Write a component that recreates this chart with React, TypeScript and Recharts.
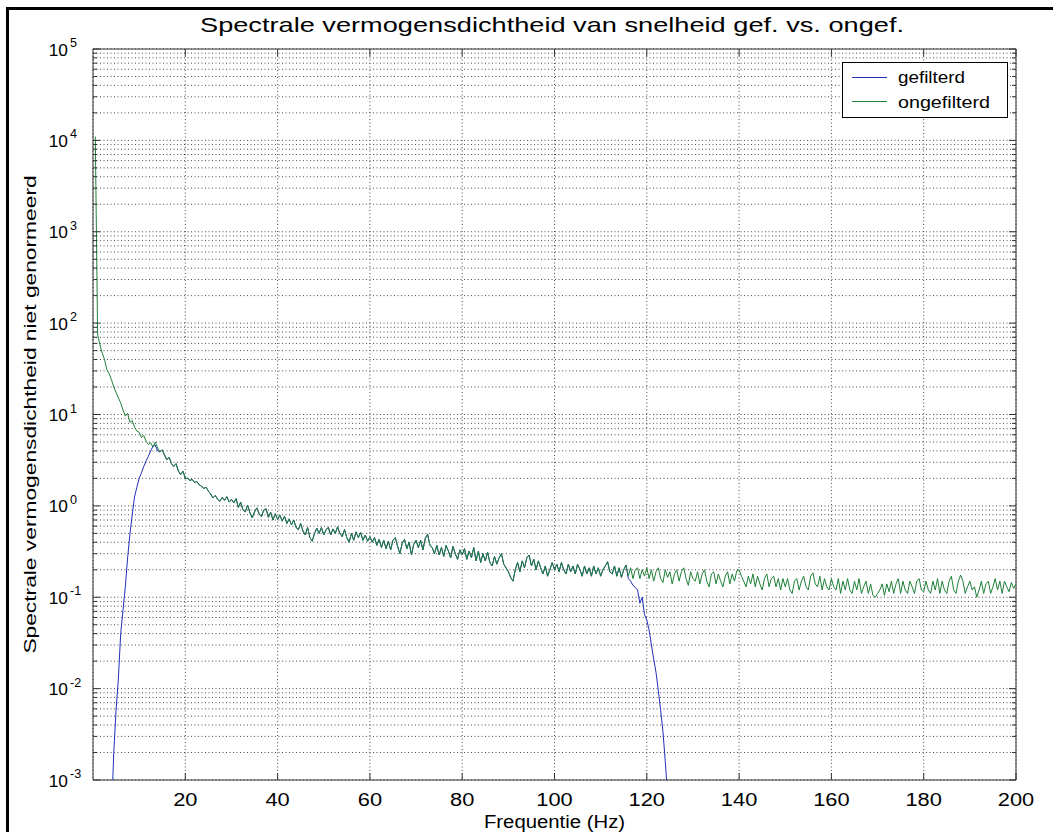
import {
  CartesianGrid,
  Legend,
  Line,
  LineChart,
  ReferenceLine,
  XAxis,
  YAxis,
} from "recharts";

// frequency bins: 0.5 Hz apart, first bin at 0.5 Hz
const FREQ_STEP = 0.5;

// unfiltered spectrum, one value per bin (0.5 .. 200 Hz), 20 bins per row
const ONGEFILTERD = [
  11000, 75, 58, 47, 40, 31, 28, 24, 20, 17.5, 15.2, 13.4, 11.2, 9.6, 10.3, 8.2, 8.6, 7.3, 6.6, 6.4,
  5.6, 5.9, 5.1, 4.7, 4.9, 4.4, 5.0, 4.3, 3.9, 4.1, 3.6, 3.2, 3.4, 2.9, 2.7, 2.9, 2.4, 2.2, 2.4, 2.0,
  2.0, 1.9, 1.95, 1.8, 1.85, 1.7, 1.65, 1.55, 1.6, 1.45, 1.35, 1.22, 1.3, 1.18, 1.12, 1.24, 1.15, 1.26, 1.1, 1.18,
  1.08, 1.2, 0.96, 1.1, 0.9, 0.86, 1.02, 0.84, 0.74, 0.86, 0.95, 0.82, 0.76, 0.9, 0.93, 0.75, 0.85, 0.7, 0.82, 0.71,
  0.79, 0.68, 0.77, 0.64, 0.72, 0.62, 0.7, 0.58, 0.55, 0.64, 0.53, 0.48, 0.58, 0.45, 0.41, 0.5, 0.57, 0.5, 0.58, 0.48,
  0.55, 0.58, 0.48, 0.56, 0.5, 0.59, 0.5, 0.46, 0.55, 0.45, 0.4, 0.5, 0.42, 0.52, 0.45, 0.51, 0.42, 0.48, 0.41, 0.46,
  0.4, 0.45, 0.37, 0.43, 0.35, 0.42, 0.34, 0.41, 0.33, 0.42, 0.45, 0.36, 0.3, 0.39, 0.43, 0.34, 0.4, 0.29, 0.38, 0.42,
  0.35, 0.42, 0.33, 0.44, 0.49, 0.37, 0.35, 0.3, 0.37, 0.29, 0.35, 0.28, 0.37, 0.32, 0.27, 0.36, 0.3, 0.26, 0.33, 0.29,
  0.34, 0.26, 0.32, 0.27, 0.35, 0.25, 0.32, 0.24, 0.3, 0.25, 0.31, 0.24, 0.22, 0.28, 0.23, 0.27, 0.3, 0.23, 0.21, 0.19,
  0.165, 0.15, 0.2, 0.24, 0.19, 0.25, 0.21, 0.27, 0.29, 0.22, 0.26, 0.2, 0.25, 0.21, 0.18, 0.22, 0.17, 0.2, 0.24, 0.2,
  0.23, 0.19, 0.24, 0.2, 0.18, 0.23, 0.19, 0.22, 0.18, 0.23, 0.2, 0.17, 0.22, 0.18, 0.21, 0.17, 0.22, 0.18, 0.21, 0.17,
  0.2, 0.22, 0.245, 0.19, 0.18, 0.22, 0.17, 0.21, 0.165, 0.2, 0.225, 0.17, 0.21, 0.16, 0.2, 0.21, 0.16, 0.2, 0.17, 0.21,
  0.16, 0.2, 0.15, 0.19, 0.21, 0.16, 0.145, 0.2, 0.165, 0.19, 0.14, 0.18, 0.2, 0.15, 0.19, 0.21, 0.16, 0.135, 0.19, 0.16,
  0.15, 0.19, 0.14, 0.18, 0.2, 0.15, 0.13, 0.18, 0.19, 0.14, 0.18, 0.15, 0.13, 0.17, 0.19, 0.14, 0.18, 0.15, 0.195, 0.2,
  0.17, 0.15, 0.13, 0.17, 0.14, 0.18, 0.13, 0.17, 0.14, 0.12, 0.16, 0.18, 0.13, 0.16, 0.17, 0.13, 0.16, 0.12, 0.16, 0.13,
  0.16, 0.12, 0.11, 0.15, 0.16, 0.12, 0.15, 0.17, 0.13, 0.12, 0.17, 0.185, 0.14, 0.13, 0.17, 0.12, 0.16, 0.13, 0.12, 0.16,
  0.13, 0.12, 0.16, 0.11, 0.15, 0.12, 0.16, 0.12, 0.11, 0.15, 0.12, 0.16, 0.11, 0.13, 0.15, 0.11, 0.14, 0.105, 0.1, 0.11,
  0.12, 0.14, 0.105, 0.14, 0.115, 0.15, 0.11, 0.14, 0.16, 0.11, 0.15, 0.12, 0.11, 0.15, 0.13, 0.11, 0.15, 0.16, 0.12, 0.115,
  0.15, 0.12, 0.11, 0.15, 0.12, 0.16, 0.11, 0.15, 0.12, 0.11, 0.15, 0.17, 0.12, 0.11, 0.15, 0.175, 0.15, 0.11, 0.13, 0.15,
  0.12, 0.13, 0.1, 0.12, 0.15, 0.11, 0.14, 0.15, 0.11, 0.13, 0.16, 0.12, 0.15, 0.11, 0.15, 0.13, 0.115, 0.145, 0.125, 0.14,
];

// filtered spectrum: rising edge of the band-pass, 4.0 .. 14.0 Hz
const GEF_LOW_FROM = 4.0;
const GEFILTERD_LOW = [
  0.0004, 0.002, 0.0058, 0.013, 0.04, 0.072, 0.13, 0.27, 0.49, 0.8, 1.25,
  1.6, 2.0, 2.3, 2.7, 3.1, 3.5, 4.0, 4.5, 4.6, 4.0,
];
// falling edge, 116.0 .. 125.0 Hz
const GEF_HIGH_FROM = 116.0;
const GEFILTERD_HIGH = [
  0.16, 0.15, 0.135, 0.128, 0.12, 0.086, 0.1, 0.065, 0.056, 0.044,
  0.03, 0.021, 0.015, 0.0095, 0.0058, 0.0034, 0.0016, 0.0007, 0.0003,
];
// in between the filtered curve lies on top of the unfiltered one

const X_TICKS = [20, 40, 60, 80, 100, 120, 140, 160, 180, 200];
const DECADES = [-3, -2, -1, 0, 1, 2, 3, 4, 5];
const MINOR = [2, 3, 4, 5, 6, 7, 8, 9];

const Y_TICKS: number[] = [];
DECADES.forEach((d) => {
  Y_TICKS.push(Math.pow(10, d));
  if (d < 5) MINOR.forEach((m) => Y_TICKS.push(m * Math.pow(10, d)));
});

const BLUE = "#2030b8";
const GREEN = "#1f8038";
const AXIS = "#333";
const FONT = '"Liberation Sans", Arial, Helvetica, sans-serif';

const PLOT = { left: 93, right: 1016, top: 49, bottom: 780 };

const data = ONGEFILTERD.map((v, i) => {
  const f = (i + 1) * FREQ_STEP;
  let gef: number | undefined;
  const lo = Math.round((f - GEF_LOW_FROM) / FREQ_STEP);
  const hi = Math.round((f - GEF_HIGH_FROM) / FREQ_STEP);
  if (lo >= 0 && lo < GEFILTERD_LOW.length) gef = GEFILTERD_LOW[lo];
  else if (hi >= 0 && hi < GEFILTERD_HIGH.length) gef = GEFILTERD_HIGH[hi];
  else if (lo >= GEFILTERD_LOW.length && hi < 0) gef = v;
  return { f, ongef: v, gef };
});

function Wide(props: {
  x: number;
  y: number;
  size: number;
  sx?: number;
  rotate?: number;
  anchor?: "start" | "middle" | "end";
  children: React.ReactNode;
}) {
  const { x, y, size, sx = 1.2, rotate = 0, anchor = "middle", children } = props;
  return (
    <text
      transform={`translate(${x} ${y}) rotate(${rotate}) scale(${sx} 1)`}
      textAnchor={anchor}
      fontSize={size}
      fontFamily={FONT}
      fill="#000"
    >
      {children}
    </text>
  );
}

function XTick(props: any) {
  const { payload } = props;
  const x = payload.coordinate ?? props.x;
  return (
    <g>
      <line x1={x} x2={x} y1={PLOT.bottom} y2={PLOT.bottom - 7} stroke={AXIS} />
      <line x1={x} x2={x} y1={PLOT.top} y2={PLOT.top + 7} stroke={AXIS} />
      <Wide x={x} y={806} size={19} sx={1.15}>
        {payload.value}
      </Wide>
    </g>
  );
}

function YTick(props: any) {
  const { payload } = props;
  const y = payload.coordinate ?? props.y;
  const exp = Math.log10(payload.value);
  const major = Math.abs(exp - Math.round(exp)) < 1e-6;
  const len = major ? 7 : 4;
  return (
    <g>
      <line x1={PLOT.left} x2={PLOT.left + len} y1={y} y2={y} stroke={AXIS} />
      <line x1={PLOT.right} x2={PLOT.right - len} y1={y} y2={y} stroke={AXIS} />
      {major && (
        <>
          <Wide x={68} y={y + 6.5} size={16.5} sx={1.05} anchor="end">
            10
          </Wide>
          <Wide x={70} y={y - 2} size={12} sx={1.05} anchor="start">
            {Math.round(exp)}
          </Wide>
        </>
      )}
    </g>
  );
}

function YLabel(props: any) {
  const vb = props.viewBox ?? {};
  const cy = (vb.y ?? PLOT.top) + (vb.height ?? PLOT.bottom - PLOT.top) / 2;
  return (
    <Wide x={36} y={cy} size={16.5} sx={1.38} rotate={-90}>
      Spectrale vermogensdichtheid niet genormeerd
    </Wide>
  );
}

function XLabel(props: any) {
  const vb = props.viewBox ?? {};
  const cx = (vb.x ?? PLOT.left) + (vb.width ?? PLOT.right - PLOT.left) / 2;
  return (
    <Wide x={cx} y={828} size={18} sx={1.13}>
      Frequentie (Hz)
    </Wide>
  );
}

function LegendBox() {
  return (
    <svg width={166} height={56} style={{ display: "block" }}>
      <rect x={0.5} y={0.5} width={165} height={55} fill="#fff" stroke="#000" />
      <line x1={10} x2={45} y1={15.5} y2={15.5} stroke={BLUE} />
      <text x={56} y={21} fontSize={16} fontFamily={FONT} textLength={67} lengthAdjust="spacingAndGlyphs">
        gefilterd
      </text>
      <line x1={10} x2={45} y1={39.5} y2={39.5} stroke={GREEN} />
      <text x={56} y={46} fontSize={16} fontFamily={FONT} textLength={92} lengthAdjust="spacingAndGlyphs">
        ongefilterd
      </text>
    </svg>
  );
}

export default function App() {
  return (
    <div
      style={{
        position: "absolute",
        left: 0,
        top: 0,
        width: 1053,
        height: 832,
        background: "#fff",
        overflow: "hidden",
      }}
    >
      <div
        style={{
          position: "absolute",
          left: 6,
          top: 7,
          right: 0,
          bottom: 0,
          borderLeft: "3px solid #000",
          borderTop: "3px solid #000",
        }}
      />
      <svg width={1053} height={45} style={{ position: "absolute", left: 0, top: 0 }}>
        <text
          x={552}
          y={32}
          textAnchor="middle"
          fontSize={21}
          fontFamily={FONT}
          textLength={704}
          lengthAdjust="spacingAndGlyphs"
        >
          Spectrale vermogensdichtheid van snelheid gef. vs. ongef.
        </text>
      </svg>
      <div style={{ position: "absolute", left: 0, top: 0 }}>
        <LineChart
          width={1053}
          height={832}
          data={data}
          margin={{ top: PLOT.top, right: 1053 - PLOT.right, bottom: 0, left: 0 }}
        >
          <CartesianGrid stroke="#4a4a4a" strokeDasharray="1 2.5" />
          <XAxis
            dataKey="f"
            type="number"
            domain={[0, 200]}
            ticks={X_TICKS}
            allowDataOverflow
            height={832 - PLOT.bottom}
            axisLine={{ stroke: AXIS }}
            tickLine={false}
            tick={<XTick />}
            interval={0}
            label={<XLabel />}
          />
          <YAxis
            type="number"
            scale="log"
            domain={[1e-3, 1e5]}
            ticks={Y_TICKS}
            allowDataOverflow
            width={PLOT.left}
            axisLine={{ stroke: AXIS }}
            tickLine={false}
            tick={<YTick />}
            interval={0}
            label={<YLabel />}
          />
          <ReferenceLine y={1e5} stroke={AXIS} />
          <ReferenceLine x={200} stroke={AXIS} />
          <Legend
            layout="horizontal"
            verticalAlign="middle"
            align="center"
            content={() => <LegendBox />}
            wrapperStyle={{ position: "absolute", left: 842, top: 62, width: 166, height: 56 }}
          />
          <Line
            dataKey="gef"
            name="gefilterd"
            stroke={BLUE}
            strokeWidth={1}
            dot={false}
            activeDot={false}
            isAnimationActive={false}
            type="linear"
          />
          <Line
            dataKey="ongef"
            name="ongefilterd"
            stroke={GREEN}
            strokeWidth={1}
            dot={false}
            activeDot={false}
            isAnimationActive={false}
            type="linear"
          />
        </LineChart>
      </div>
    </div>
  );
}
